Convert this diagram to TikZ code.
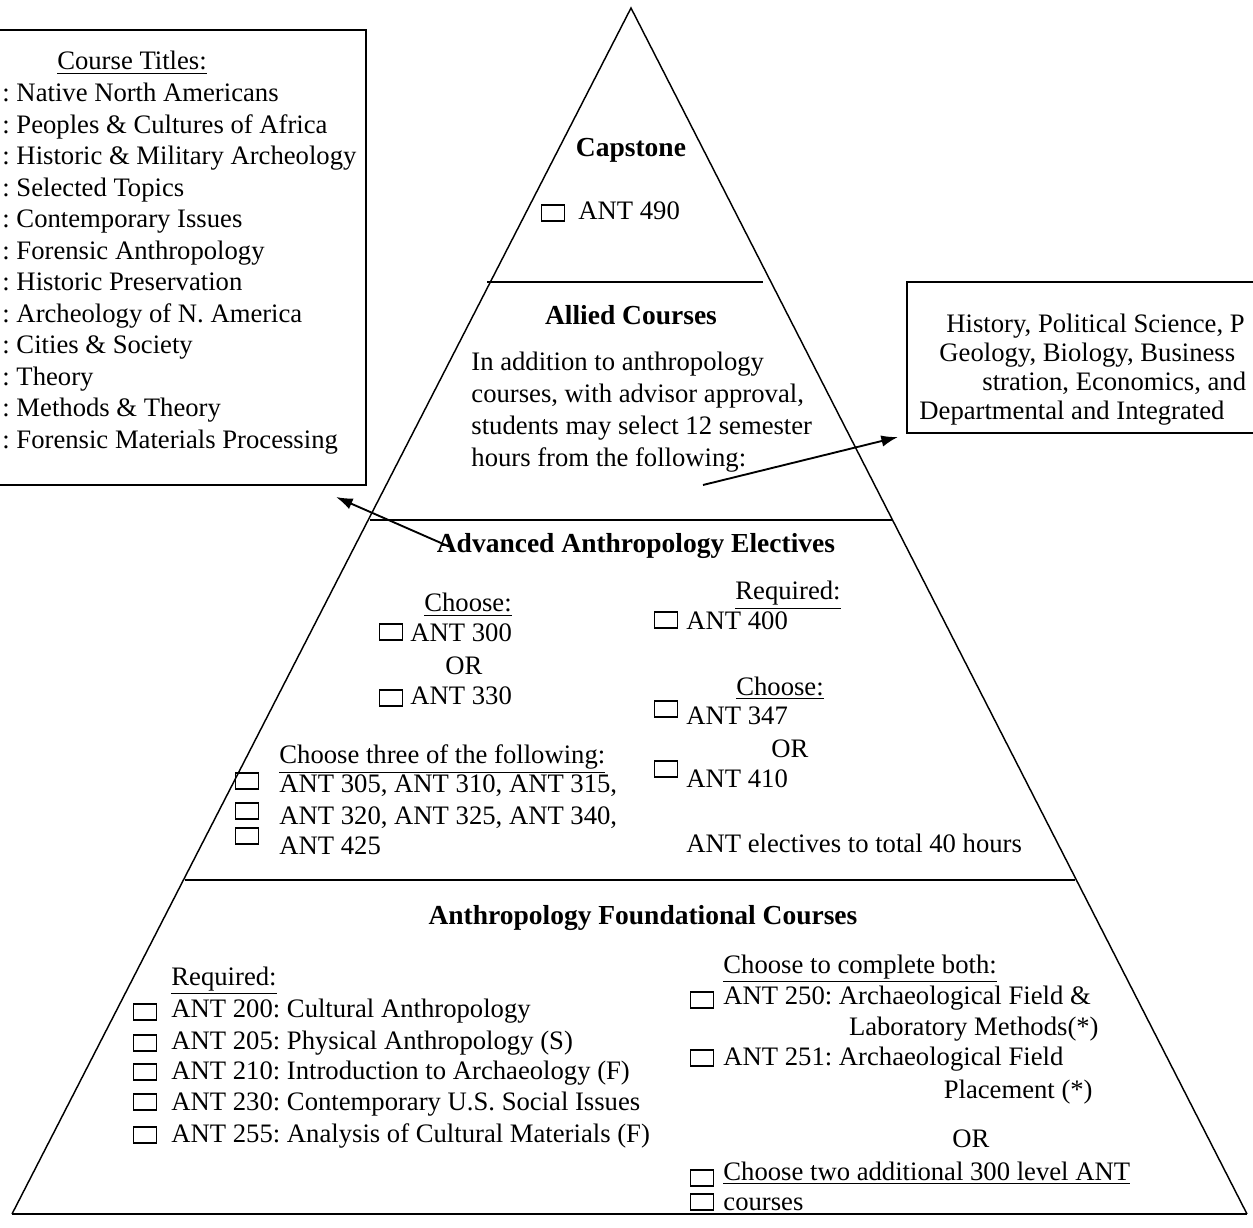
\documentclass[tikz,border=0pt]{standalone}
\usepackage{fontspec}
\setmainfont{Liberation Serif}
\usetikzlibrary{arrows.meta,fit}

\begin{document}
\frenchspacing
\begin{tikzpicture}[x=0.48pt,y=-0.48pt,
    every node/.style={font=\fontsize{12.8}{15}\selectfont},
    txt/.style={inner sep=0pt,anchor=base west},
    txtr/.style={inner sep=0pt,anchor=base east},
    mid/.style={inner sep=0pt,anchor=base},
    head/.style={mid,font=\fontsize{13.2}{15}\selectfont\bfseries},
    cbox/.style={draw,line width=0.7pt,inner sep=0pt,minimum width=11pt,minimum height=7.8pt},
    frame/.style={draw,line width=0.9pt,inner sep=0pt},
    tier/.style={line width=1.1pt},
    arr/.style={line width=0.9pt,-{Latex[length=8pt,width=5.5pt]}}]
      \useasboundingbox (0,0) rectangle (1253,1228);

      % pyramid
      \coordinate (apex) at (631,8);
      \coordinate (baseL) at (12,1214);
      \coordinate (baseR) at (1247,1214);
      \draw[line width=0.7pt] (baseL) -- (apex) -- (baseR);
      \draw[tier] (baseL) -- (baseR);
      \draw[tier] (487,282) -- (763,282);
      \draw[tier] (370,520) -- (893,520);
      \draw[tier] (185,880) -- (1075,880);

      % capstone
      \node[head] (capstone) at (631,157) {Capstone};
      \node[cbox] (cb490) at (553,213) {};
      \node[txt] (a490) at (578,220) {ANT 490};

      % allied courses
      \node[head] (allied) at (631,325) {Allied Courses};
      \node[txt] (al1) at (471,371) {In addition to anthropology};
      \node[txt] (al2) at (471,403) {courses, with advisor approval,};
      \node[txt] (al3) at (471,435) {students may select 12 semester};
      \node[txt] (al4) at (471,467) {hours from the following:};

      % advanced electives
      \node[head] (electives) at (636,553) {Advanced Anthropology Electives};
      \node[mid] (chooseA) at (468,612) {\underline{Choose:}};
      \node[cbox] (cb300) at (391,632) {};
      \node[txt] (a300) at (410,642) {ANT 300};
      \node[mid] (orA) at (464,674) {OR};
      \node[cbox] (cb330) at (391,698) {};
      \node[txt] (a330) at (410,705) {ANT 330};

      \node[mid] (reqA) at (788,600) {\underline{Required:}};
      \node[cbox] (cb400) at (666,620) {};
      \node[txt] (a400) at (686,630) {ANT 400};
      \node[mid] (chooseB) at (780,695) {\underline{Choose:}};
      \node[cbox] (cb347) at (666,709) {};
      \node[txt] (a347) at (686,725) {ANT 347};
      \node[mid] (orB) at (790,757) {OR};
      \node[cbox] (cb410) at (666,769) {};
      \node[txt] (a410) at (686,787) {ANT 410};
      \node[txt] (total) at (686,852) {ANT electives to total 40 hours};

      \node[txt] (three) at (279,764) {\underline{Choose three of the following:}};
      \node[cbox] (cbt1) at (247,781) {};
      \node[cbox] (cbt2) at (247,811) {};
      \node[cbox] (cbt3) at (247,836) {};
      \node[txt] (th1) at (279,792) {ANT 305, ANT 310, ANT 315,};
      \node[txt] (th2) at (279,824) {ANT 320, ANT 325, ANT 340,};
      \node[txt] (th3) at (279,854) {ANT 425};

      % foundational courses
      \node[head] (found) at (643,924) {Anthropology Foundational Courses};
      \node[txt] (reqB) at (171,985) {\underline{Required:}};
      \node[cbox] (cb200) at (145,1012) {};
      \node[txt] (a200) at (171,1017) {ANT 200: Cultural Anthropology};
      \node[cbox] (cb205) at (145,1043) {};
      \node[txt] (a205) at (171,1049) {ANT 205: Physical Anthropology (S)};
      \node[cbox] (cb210) at (145,1072) {};
      \node[txt] (a210) at (171,1079) {ANT 210: Introduction to Archaeology (F)};
      \node[cbox] (cb230) at (145,1102) {};
      \node[txt] (a230) at (171,1110) {ANT 230: Contemporary U.S. Social Issues};
      \node[cbox] (cb255) at (145,1135) {};
      \node[txt] (a255) at (171,1142) {ANT 255: Analysis of Cultural Materials (F)};

      \node[txt] (both) at (723,973) {\underline{Choose to complete both:}};
      \node[cbox] (cb250) at (702,1000) {};
      \node[txt] (a250) at (723,1004) {ANT 250: Archaeological Field \&};
      \node[txtr] (a250b) at (1099,1035) {Laboratory Methods(*)};
      \node[cbox] (cb251) at (702,1058) {};
      \node[txt] (a251) at (723,1065) {ANT 251: Archaeological Field};
      \node[txtr] (a251b) at (1093,1098) {Placement (*)};
      \node[mid] (orC) at (971,1147) {OR};
      \node[cbox] (cbtwo) at (702,1178) {};
      \node[txt] (two) at (723,1180) {\underline{Choose two additional 300 level ANT}};
      \node[cbox] (cbcourses) at (702,1202) {};
      \node[txt] (courses) at (723,1210) {\underline{courses}};

      % course titles box
      \node[frame,fit={(-20,30) (366,485)}] (titlebox) {};
      \node[mid] (ctitle) at (132,70) {\underline{Course Titles:}};
      \foreach \t [count=\i] in {Native North Americans,Peoples \& Cultures of Africa,
          Historic \& Military Archeology,Selected Topics,Contemporary Issues,
          Forensic Anthropology,Historic Preservation,Archeology of N. America,
          Cities \& Society,Theory,Methods \& Theory,Forensic Materials Processing}
        \node[txt] (ct\i) at (2,{70.5+31.5*\i}) {: \t};

      % allied subjects box
      \node[frame,fit={(907,282) (1280,433)}] (alliedbox) {};
      \node[txt] (as1) at (946,333) {History, Political Science, P};
      \node[txt] (as2) at (939,362) {Geology, Biology, Business};
      \node[txt] (as3) at (982,391) {stration, Economics, and};
      \node[txt] (as4) at (919,420) {Departmental and Integrated};

      % arrows
      \coordinate (titletip) at (336,497);
      \coordinate (alliedtail) at (703,485);
      \coordinate (alliedtip) at (898,437);
      \draw[arr] ([xshift=6pt]electives.west) -- (titletip);
      \draw[arr] (alliedtail) -- (alliedtip);
\end{tikzpicture}
\end{document}
